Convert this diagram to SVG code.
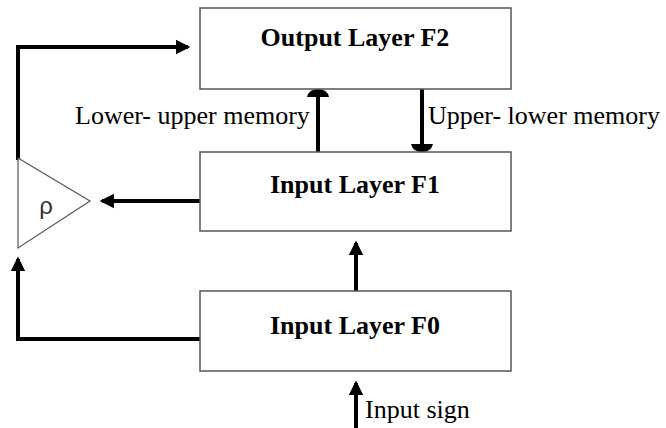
<svg xmlns="http://www.w3.org/2000/svg" width="666" height="428" viewBox="0 0 666 428">
<style>
.box{fill:#fff;stroke:#555;stroke-width:1.5}
.t{font-family:"Liberation Serif","Times New Roman",serif;font-size:26px;fill:#000}
.b{font-weight:bold;text-anchor:middle}
.c{fill:none;stroke:#000;stroke-width:4}
.cap{fill:#000}
</style>
<defs>
<marker id="ah" markerWidth="4" markerHeight="4" refX="3" refY="2" orient="auto" markerUnits="strokeWidth">
<path d="M0,0.2 L3.6,2 L0,3.8 Z" fill="#000"/>
</marker>
</defs>
<rect width="666" height="428" fill="#fff"/>
<g id="connectors">
<path class="c" d="M18,160 L18,47 L188,47" marker-end="url(#ah)"/>
<path class="c" d="M200,201 L102,201" marker-end="url(#ah)"/>
<path class="c" d="M200,339 L18,339 L18,259" marker-end="url(#ah)"/>
<path class="c" d="M318,152 L318,94"/>
<path class="cap" d="M307,97 Q309,89 318,89 Q327,89 329,97 Z"/>
<path class="c" d="M422,89 L422,147"/>
<path class="cap" d="M411,144 Q413,152 422,152 Q431,152 433,144 Z"/>
<path class="c" d="M356,291 L356,243" marker-end="url(#ah)"/>
<path class="c" d="M356,428 L356,383" marker-end="url(#ah)"/>
</g>
<g id="F2"><rect class="box" x="200" y="8" width="311" height="81"/><text class="t b" x="355" y="46">Output Layer F2</text></g>
<g id="F1"><rect class="box" x="200" y="152" width="311" height="79"/><text class="t b" x="355" y="193">Input Layer F1</text></g>
<g id="F0"><rect class="box" x="200" y="291" width="311" height="80"/><text class="t b" x="355" y="334">Input Layer F0</text></g>
<g id="rho"><path d="M18,158 L90,201 L18,248 Z" fill="#fff" stroke="#555" stroke-width="1.2"/><text x="46" y="214" text-anchor="middle" style="font-family:'Liberation Sans',sans-serif;font-size:24px;fill:#333">ρ</text></g>
<g id="labels">
<text class="t" x="75" y="124">Lower- upper memory</text>
<text class="t" x="428" y="124">Upper- lower memory</text>
<text class="t" x="365" y="418">Input sign</text>
</g>
</svg>
